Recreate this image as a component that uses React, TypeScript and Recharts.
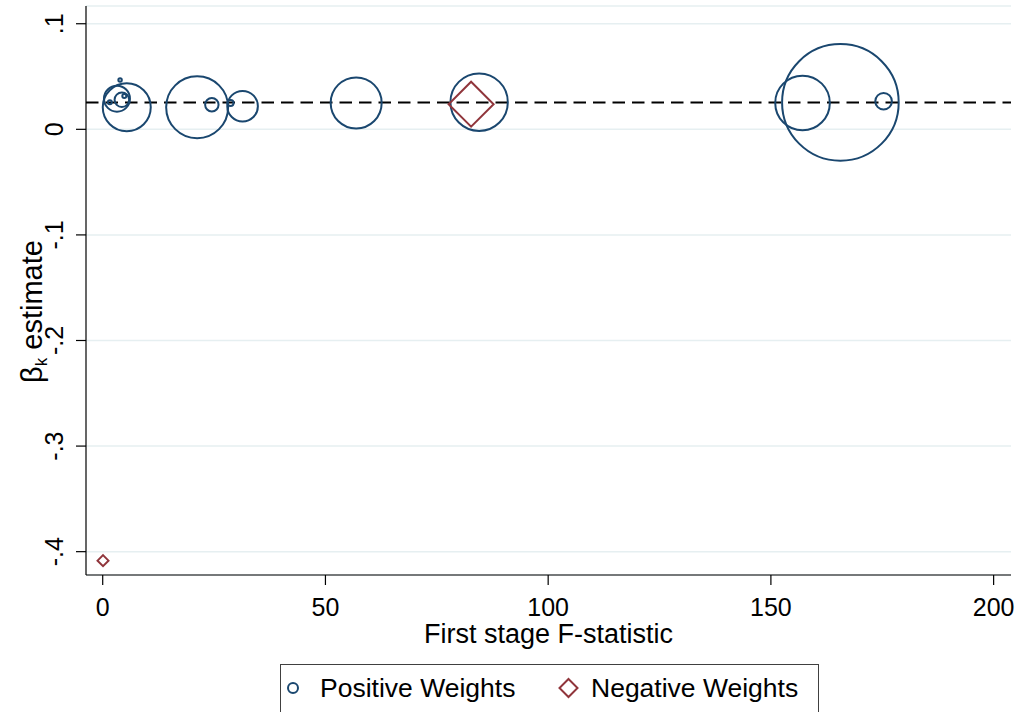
import React from "react";
import {
  ScatterChart,
  Scatter,
  XAxis,
  YAxis,
  ZAxis,
  CartesianGrid,
  ReferenceLine,
  Legend,
  Label,
} from "recharts";

// ---- data ----
const posF = [165.6, 157.1, 175.3, 84.5, 56.9, 21.2, 24.5, 31.4, 28.7, 5.4, 3.2, 4.3, 4.85, 3.9, 1.6];
const posBeta = [0.0255, 0.025, 0.0266, 0.0257, 0.025, 0.0209, 0.0233, 0.0219, 0.025, 0.0209, 0.029, 0.028, 0.0315, 0.0467, 0.0256];
const posWeight = [34.0, 7.45, 0.69, 8.24, 6.5, 9.6, 0.45, 2.34, 0.09, 5.76, 1.69, 0.53, 0.04, 0.03, 0.04];

const negF = [82.7, 0.07];
const negBeta = [0.0238, -0.4085];
const negWeight = [5.06, 0.3];

const betaOverall = 0.0255;

const xTicks = [0, 50, 100, 150, 200];
const yTicks = [-0.4, -0.3, -0.2, -0.1, 0, 0.1];

const posData = posF.map((f, i) => ({ f, b: posBeta[i], w: posWeight[i] }));
const negData = negF.map((f, i) => ({ f, b: negBeta[i], w: negWeight[i] }));

const NAVY = "#1a476f";
const MAROON = "#90353b";
const FONT = "'Liberation Sans', Arial, sans-serif";

const fmtY = (v: number) => {
  if (Math.abs(v) < 1e-9) return "0";
  const s = v.toFixed(1);
  return s.replace("0.", ".");
};

const CircleShape = (props: any) => {
  const { cx, cy, size } = props;
  const r = Math.sqrt((size ?? 0) / Math.PI);
  return <circle cx={cx} cy={cy} r={r} fill="none" stroke={NAVY} strokeWidth={2} />;
};

const DiamondShape = (props: any) => {
  const { cx, cy, size } = props;
  const h = Math.sqrt((size ?? 0) / 2);
  return (
    <path
      d={`M${cx},${cy - h}L${cx + h},${cy}L${cx},${cy + h}L${cx - h},${cy}Z`}
      fill="none"
      stroke={MAROON}
      strokeWidth={2}
    />
  );
};

const YTick = (props: any) => {
  const { x, y, payload } = props;
  const tx = x - 11;
  return (
    <text
      x={tx}
      y={y}
      transform={`rotate(-90, ${tx}, ${y})`}
      textAnchor="middle"
      fontFamily={FONT}
      fontSize={25}
      fill="#000"
    >
      {fmtY(payload.value)}
    </text>
  );
};

const YTitle = (props: any) => {
  const vb = props.viewBox || { x: 0, y: 0, width: 86, height: 570 };
  const tx = vb.x + 42;
  const ty = vb.y + vb.height / 2 + 21;
  return (
    <text
      x={tx}
      y={ty}
      transform={`rotate(-90, ${tx}, ${ty})`}
      textAnchor="middle"
      fontFamily={FONT}
      fontSize={29}
      fill="#000"
    >
      β<tspan fontSize={17} dy={5}>k</tspan>
      <tspan dy={-5}> estimate</tspan>
    </text>
  );
};

const LegendContent = () => (
  <div
    style={{
      position: "relative",
      width: 539,
      height: 54,
      boxSizing: "border-box",
      border: "1px solid #404040",
      background: "#fff",
      fontFamily: FONT,
      fontSize: 26.5,
      color: "#000",
    }}
  >
    <svg width={539} height={54} style={{ position: "absolute", left: -1, top: -1 }}>
      <circle cx={13} cy={24} r={5} fill="none" stroke={NAVY} strokeWidth={2} />
      <path d="M288.5,15L297.5,24L288.5,33L279.5,24Z" fill="none" stroke={MAROON} strokeWidth={2} />
    </svg>
    <span style={{ position: "absolute", left: 39, top: 8, lineHeight: "30px", whiteSpace: "nowrap" }}>
      Positive Weights
    </span>
    <span style={{ position: "absolute", left: 310, top: 8, lineHeight: "30px", whiteSpace: "nowrap" }}>
      Negative Weights
    </span>
  </div>
);

export default function App() {
  return (
    <div
      style={{
        position: "absolute",
        left: 0,
        top: 0,
        width: 1019,
        height: 712,
        overflow: "hidden",
        background: "#fff",
      }}
    >
      <ScatterChart width={1019} height={712} margin={{ top: 6, right: 8, left: 0, bottom: 0 }}>
        <CartesianGrid horizontal vertical={false} stroke="#e6eff1" strokeWidth={1.5} />
        <XAxis
          type="number"
          dataKey="f"
          domain={[-3.75, 203.9]}
          ticks={xTicks}
          allowDataOverflow
          height={83}
          tickSize={10}
          tickMargin={13}
          axisLine={{ stroke: "#000", strokeWidth: 1.2 }}
          tickLine={{ stroke: "#000", strokeWidth: 1.2 }}
          tick={{ fill: "#000", fontSize: 25, fontFamily: FONT }}
        >
          <Label
            value="First stage F-statistic"
            position="insideTop"
            offset={49}
            style={{ fill: "#000", fontSize: 27, fontFamily: FONT }}
          />
        </XAxis>
        <YAxis
          type="number"
          dataKey="b"
          domain={[-0.4221, 0.1168]}
          ticks={yTicks}
          allowDataOverflow
          width={86}
          tickSize={10}
          axisLine={{ stroke: "#000", strokeWidth: 1.2 }}
          tickLine={{ stroke: "#000", strokeWidth: 1.2 }}
          tick={<YTick />}
        >
          <Label content={<YTitle />} />
        </YAxis>
        <ZAxis zAxisId="pos" type="number" dataKey="w" domain={[0, 40]} range={[0, 4000 * Math.PI]} />
        <ZAxis zAxisId="neg" type="number" dataKey="w" domain={[0, 40]} range={[0, 8000]} />
        <Legend
          verticalAlign="bottom"
          content={<LegendContent />}
          wrapperStyle={{ top: 664, bottom: "auto", left: 280, width: 539, height: 54 }}
        />
        <Scatter
          name="Positive Weights"
          data={posData}
          zAxisId="pos"
          shape={<CircleShape />}
          isAnimationActive={false}
        />
        <Scatter
          name="Negative Weights"
          data={negData}
          zAxisId="neg"
          shape={<DiamondShape />}
          isAnimationActive={false}
        />
        <ReferenceLine
          y={betaOverall}
          stroke="#000"
          strokeWidth={2}
          strokeDasharray="12.5 7"
          ifOverflow="extendDomain"
        />
      </ScatterChart>
    </div>
  );
}
